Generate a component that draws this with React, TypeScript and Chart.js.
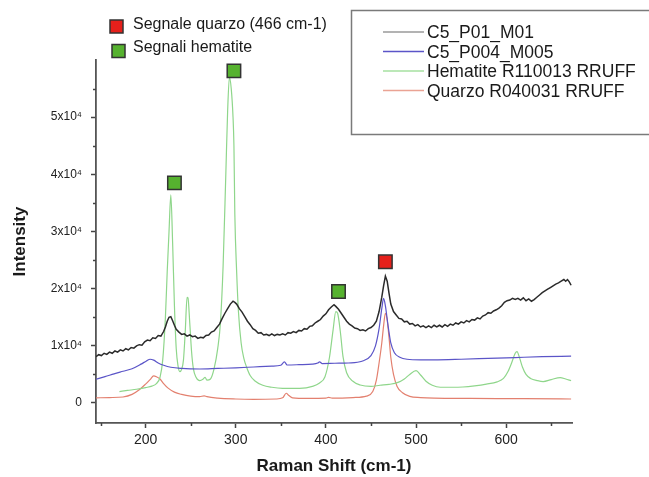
import React, { useEffect, useRef } from 'react';
import { Chart, registerables } from 'chart.js';

Chart.register(...registerables);

// ---------- axes ----------
const xMin = 145;
const xMax = 673;
const yMin = -3500;
const yMax = 60000;
const xTickValues = [200, 300, 400, 500, 600];
const xMinorTicks = [150, 250, 350, 450, 550, 650];
const yTickValues = [0, 10000, 20000, 30000, 40000, 50000];
const yMinorTicks = [5000, 15000, 25000, 35000, 45000, 55000];
const xTitle = 'Raman Shift (cm-1)';
const yTitle = 'Intensity';

// ---------- series ----------
const seriesNames = ['C5_P01_M01', 'C5_P004_M005', 'Hematite R110013 RRUFF', 'Quarzo R040031 RRUFF'];
const seriesColors = ['#2b2b2b', '#5b55c8', '#8fd68b', '#e3806f'];
const legendColors = ['#9a9a9a', '#5b55c8', '#a6e0a0', '#eaa394'];

const c5P01M01: [number, number][] = [
  [145, 8100], [148, 8450], [151, 8300], [154, 8700], [157, 8500], [160, 8900], [163, 8700], [166, 9100],
  [169, 8900], [172, 9300], [175, 9100], [178, 9500], [181, 9300], [184, 9700], [187, 9600], [190, 10000],
  [193, 10200], [196, 10100], [199, 10700], [202, 11000], [205, 10900], [208, 11400], [211, 11300], [214, 11800],
  [217, 11700], [220, 12500], [222, 13300], [224, 14300], [226, 15000], [228, 15100], [230, 14400], [232, 13600],
  [234, 12900], [237, 12400], [240, 12000], [243, 12100], [246, 11700], [249, 11900], [252, 11600], [255, 11700],
  [258, 11300], [261, 11500], [264, 11400], [267, 11800], [270, 11900], [273, 12400], [276, 12600], [279, 13200],
  [282, 13800], [285, 14800], [288, 15700], [291, 16500], [294, 17300], [297, 17800], [299, 17600], [301, 17300],
  [304, 16500], [307, 15900], [310, 15100], [313, 14300], [316, 13700], [319, 13000], [322, 12700], [325, 12200],
  [328, 12300], [331, 11900], [334, 12000], [337, 11800], [340, 12100], [343, 11800], [346, 12000], [349, 11900],
  [352, 12100], [355, 11900], [358, 12300], [361, 12200], [364, 12500], [367, 12300], [370, 12700], [373, 12600],
  [376, 13000], [379, 12900], [382, 13400], [385, 13500], [388, 14000], [391, 14300], [394, 14600], [397, 15200],
  [400, 15600], [403, 16300], [406, 16800], [409, 17200], [411, 16900], [414, 16400], [417, 15700], [420, 15000],
  [423, 14300], [426, 13800], [429, 13500], [432, 13100], [435, 13000], [438, 12700], [441, 12800], [444, 12600],
  [447, 13000], [450, 13200], [453, 13600], [456, 14300], [459, 16000], [462, 18500], [464, 20500], [466, 22200],
  [468, 21300], [470, 19200], [472, 17300], [475, 16000], [478, 15400], [481, 14800], [484, 14700], [487, 14200],
  [490, 14300], [493, 13800], [496, 13900], [499, 13500], [502, 13700], [505, 13300], [508, 13500], [511, 13200],
  [514, 13500], [517, 13200], [520, 13600], [523, 13300], [526, 13600], [529, 13300], [532, 13700], [535, 13400],
  [538, 13800], [541, 13600], [544, 14000], [547, 13800], [550, 14200], [553, 14000], [556, 14400], [559, 14200],
  [562, 14600], [565, 14500], [568, 14900], [571, 14700], [574, 15200], [577, 15400], [580, 15800], [583, 15700],
  [586, 16100], [589, 16300], [592, 16600], [595, 17000], [598, 17600], [601, 17900], [604, 18000], [607, 18300],
  [610, 18100], [613, 18300], [616, 18000], [619, 18400], [622, 17900], [625, 18200], [628, 17800], [631, 18100],
  [634, 18500], [637, 18900], [640, 19300], [643, 19600], [646, 19900], [649, 20200], [652, 20500], [655, 20800],
  [658, 21000], [661, 21300], [664, 21600], [666, 21300], [668, 21600], [670, 21200], [672, 20600],
];

const c5P004M005: [number, number][] = [
  [145, 4150], [155, 4600], [165, 5100], [175, 5550], [185, 6000], [195, 6800], [201, 7350], [205, 7650],
  [209, 7500], [214, 7000], [220, 6600], [228, 6250], [240, 6050], [260, 5950], [280, 6050], [300, 6150],
  [320, 6300], [340, 6450], [350, 6600], [354, 7200], [357, 6650], [370, 6700], [385, 6800], [391, 7000],
  [393, 7200], [396, 6900], [410, 6950], [425, 7000], [440, 7300], [450, 8300], [455, 10000], [459, 13000],
  [462, 16500], [464, 18300], [466, 17000], [469, 13500], [472, 10500], [476, 8800], [482, 8000], [490, 7650],
  [505, 7550], [520, 7550], [550, 7650], [580, 7800], [610, 7950], [640, 8100], [672, 8200],
];

const hematite: [number, number][] = [
  [171, 2000], [180, 2200], [190, 2400], [200, 2700], [207, 2950], [212, 3400], [216, 4500], [219, 7500],
  [222, 15000], [224, 23000], [226, 30000], [228, 36400], [230, 28000], [232, 17000], [234, 9500], [236, 6500],
  [238, 5500], [240, 5900], [242, 7500], [244, 12500], [246, 18500], [247, 18400], [249, 14000], [251, 9000],
  [253, 6000], [256, 4500], [260, 3900], [264, 4200], [266, 4500], [268, 4000], [272, 4200], [276, 6000],
  [280, 9500], [283, 14000], [286, 24000], [289, 40000], [291, 51000], [293, 57000], [295, 55000], [297, 50000],
  [298, 45000], [299, 33000], [301, 23000], [303, 16000], [306, 10500], [309, 7800], [312, 6300], [316, 4800],
  [321, 3900], [330, 3100], [340, 2750], [352, 2570], [371, 2570], [385, 2900], [393, 3500], [399, 4600],
  [404, 8000], [408, 12800], [411, 16000], [413, 15700], [416, 12500], [419, 8100], [423, 5300], [430, 3800],
  [438, 3150], [450, 2900], [460, 3100], [470, 3250], [480, 3600], [487, 4200], [493, 5000], [500, 5650],
  [505, 4900], [511, 3800], [518, 3100], [527, 2750], [540, 2750], [552, 2800], [565, 3000], [578, 3300],
  [590, 3700], [597, 4300], [602, 5500], [606, 7000], [610, 8700], [612, 9000], [615, 7800], [618, 6300],
  [622, 5000], [627, 4300], [635, 3900], [641, 3750], [650, 4100], [660, 4450], [666, 4200], [672, 3900],
];

const quarzo: [number, number][] = [
  [145, 900], [160, 950], [175, 1050], [185, 1500], [193, 2300], [200, 3300], [205, 4100], [209, 4750],
  [212, 4600], [216, 4200], [220, 3400], [225, 2600], [232, 1900], [240, 1500], [250, 1200], [260, 1100],
  [265, 1250], [268, 1100], [280, 850], [300, 700], [320, 650], [345, 700], [352, 900], [356, 1700],
  [359, 1300], [363, 900], [380, 800], [400, 850], [403, 1000], [407, 850], [430, 950], [445, 1200],
  [452, 2000], [456, 4000], [459, 7000], [462, 10500], [464, 13500], [466, 15700], [468, 14500], [470, 11500],
  [472, 8000], [475, 5000], [479, 2900], [485, 1800], [493, 1150], [505, 950], [520, 850], [560, 800],
  [620, 750], [672, 700],
];

// ---------- peak markers ----------
const markerLabels = ['Segnale quarzo (466 cm-1)', 'Segnali hematite'];
const markerColors = ['#e5201b', '#56b22f'];
const quarzoMarkers: [number, number][] = [[466, 24700]];
const hematiteMarkers: [number, number][] = [[232, 38500], [298, 58100], [414, 19500]];

const FONT = 'Liberation Sans, Arial, Helvetica, sans-serif';

const toPoints = (arr: [number, number][]) => arr.map(([x, y]) => ({ x, y }));

const overlayPlugin = {
  id: 'overlay',
  afterDraw(chart: any) {
    const ctx: CanvasRenderingContext2D = chart.ctx;
    const xs = chart.scales.x;
    const ys = chart.scales.y;
    const area = chart.chartArea;
    ctx.save();
    // minor ticks
    ctx.strokeStyle = '#444';
    ctx.lineWidth = 1.5;
    xMinorTicks.forEach((v) => {
      const px = Math.round(xs.getPixelForValue(v)) + 0.5;
      ctx.beginPath();
      ctx.moveTo(px, area.bottom);
      ctx.lineTo(px, area.bottom + 3);
      ctx.stroke();
    });
    yMinorTicks.forEach((v) => {
      const py = Math.round(ys.getPixelForValue(v)) + 0.5;
      ctx.beginPath();
      ctx.moveTo(area.left, py);
      ctx.lineTo(area.left - 3, py);
      ctx.stroke();
    });

    // top-left marker key
    ctx.font = `16px ${FONT}`;
    ctx.textBaseline = 'alphabetic';
    ctx.textAlign = 'left';
    const keyRows = [
      { sq: [110, 20], base: 28.5 },
      { sq: [112, 44.5], base: 51.5 },
    ];
    keyRows.forEach((r, i) => {
      ctx.fillStyle = markerColors[i];
      ctx.strokeStyle = '#333';
      ctx.lineWidth = 1.5;
      ctx.fillRect(r.sq[0], r.sq[1], 13, 13);
      ctx.strokeRect(r.sq[0], r.sq[1], 13, 13);
      ctx.fillStyle = '#1a1a1a';
      ctx.fillText(markerLabels[i], 133, r.base);
    });

    // series legend box
    ctx.strokeStyle = '#7a7a7a';
    ctx.lineWidth = 1.5;
    ctx.strokeRect(351.5, 10.5, 320, 124);
    ctx.font = `17.5px ${FONT}`;
    seriesNames.forEach((name, i) => {
      const base = 38 + i * 19.5;
      ctx.strokeStyle = legendColors[i];
      ctx.lineWidth = 1.5;
      ctx.beginPath();
      ctx.moveTo(383, base - 6);
      ctx.lineTo(424, base - 6);
      ctx.stroke();
      ctx.fillStyle = '#1a1a1a';
      ctx.fillText(name, 427, base);
    });
    ctx.restore();
  },
};

export default function App() {
  const canvasRef = useRef<HTMLCanvasElement | null>(null);

  useEffect(() => {
    document.body.style.margin = '0';
    const canvas = canvasRef.current;
    if (!canvas) return;
    const lineSets = [c5P01M01, c5P004M005, hematite, quarzo];
    const chart = new Chart(canvas, {
      type: 'line',
      data: {
        datasets: [
          {
            type: 'scatter',
            label: markerLabels[0],
            data: toPoints(quarzoMarkers),
            pointStyle: 'rect',
            pointRadius: 9.5,
            pointBackgroundColor: markerColors[0],
            pointBorderColor: '#333',
            pointBorderWidth: 1.5,
            showLine: false,
            order: 0,
          } as any,
          {
            type: 'scatter',
            label: markerLabels[1],
            data: toPoints(hematiteMarkers),
            pointStyle: 'rect',
            pointRadius: 9.5,
            pointBackgroundColor: markerColors[1],
            pointBorderColor: '#333',
            pointBorderWidth: 1.5,
            showLine: false,
            order: 0,
          } as any,
          ...lineSets.map((set, i) => ({
            type: 'line',
            label: seriesNames[i],
            data: toPoints(set),
            borderColor: seriesColors[i],
            borderWidth: i === 0 ? 1.5 : 1.2,
            pointRadius: 0,
            fill: false,
            tension: 0,
            cubicInterpolationMode: i === 0 ? 'default' : 'monotone',
            order: i + 1,
          } as any)),
        ],
      },
      options: {
        animation: false,
        responsive: false,
        layout: { padding: { top: 60, right: 77, left: 0, bottom: 0 } },
        plugins: {
          legend: { display: false },
          tooltip: { enabled: false },
        },
        scales: {
          x: {
            type: 'linear',
            min: xMin,
            max: xMax,
            afterBuildTicks: (scale: any) => {
              scale.ticks = xTickValues.map((value) => ({ value }));
            },
            afterFit: (scale: any) => {
              scale.height = 54;
            },
            grid: {
              drawOnChartArea: false,
              drawTicks: true,
              tickLength: 5,
              tickColor: '#444',
              tickWidth: 1.5,
            },
            border: { display: true, color: '#555', width: 1.8 },
            ticks: {
              color: '#222',
              font: { family: FONT, size: 14 },
              padding: 4,
              maxRotation: 0,
              callback: (v: any) => String(v),
            },
            title: {
              display: true,
              text: xTitle,
              color: '#1a1a1a',
              font: { family: FONT, size: 17, weight: 'bold' },
              padding: { top: 0, bottom: 0 },
            },
          },
          y: {
            type: 'linear',
            min: yMin,
            max: yMax,
            afterBuildTicks: (scale: any) => {
              scale.ticks = yTickValues.map((value) => ({ value }));
            },
            afterFit: (scale: any) => {
              scale.width = 96;
            },
            grid: {
              drawOnChartArea: false,
              drawTicks: true,
              tickLength: 5,
              tickColor: '#444',
              tickWidth: 1.5,
            },
            border: { display: true, color: '#555', width: 1.8 },
            ticks: {
              color: '#222',
              font: { family: FONT, size: 12 },
              padding: 9,
              callback: (v: any) => (v === 0 ? '0' : `${v / 10000}x10\u2074`),
            },
            title: {
              display: true,
              text: yTitle,
              color: '#1a1a1a',
              font: { family: FONT, size: 17, weight: 'bold' },
              padding: { top: 10, bottom: 4 },
            },
          },
        },
      },
      plugins: [overlayPlugin],
    });
    return () => chart.destroy();
  }, []);

  return (
    <div style={{ position: 'absolute', left: 0, top: 0, width: 649, height: 477, background: '#fff' }}>
      <canvas ref={canvasRef} width={649} height={477} style={{ display: 'block' }} />
    </div>
  );
}
